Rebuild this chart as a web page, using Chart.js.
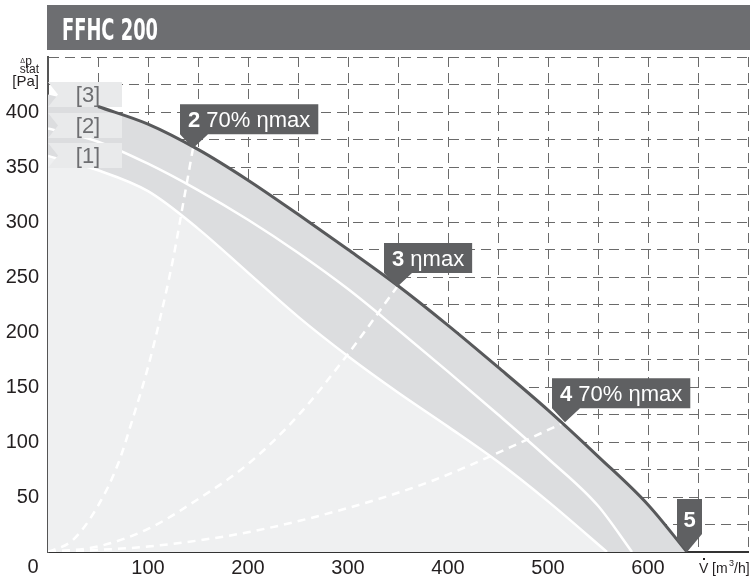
<!DOCTYPE html>
<html>
<head>
<meta charset="utf-8">
<script src="https://cdn.jsdelivr.net/npm/chart.js@4.4.1/dist/chart.umd.min.js"></script>
<style>
  html, body { margin: 0; padding: 0; background: #fff; }
  #wrap { width: 750px; height: 581px; position: relative; }
</style>
</head>
<body>
<div id="wrap"><canvas id="fanChart"></canvas></div>
<script>
// FFHC 200 - fan performance curves
const xTicks = [100, 200, 300, 400, 500, 600];
const yTicks = [50, 100, 150, 200, 250, 300, 350, 400];

// speed curve [3] (top, dark line)
const curve3Flow = [0, 50, 100, 150, 200, 250, 300, 350, 400, 450, 500, 550, 600, 639];
const curve3Pressure = [416, 405, 389, 366, 338, 307, 275, 242, 206, 168, 129, 87, 43, 0];
// speed curve [2] (white line)
const curve2Flow = [0, 50, 100, 150, 200, 250, 300, 350, 400, 450, 500, 550, 584];
const curve2Pressure = [385, 373, 353, 329, 302, 272, 239, 202, 164, 125, 85, 42, 0];
// speed curve [1] (lower edge of band)
const curve1Flow = [0, 50, 100, 150, 200, 250, 300, 350, 400, 450, 500, 559];
const curve1Pressure = [360, 347, 328, 294, 254, 214, 178, 145, 114, 82, 46, 0];

// system curves (white dashed)
const sysAFlow = [0, 25, 50, 70, 85, 100, 112, 125, 135, 145];
const sysAPressure = [0, 11, 42, 80, 122, 168, 212, 266, 316, 367];
const sysBFlow = [0, 50, 100, 150, 200, 250, 300, 349];
const sysBPressure = [0, 5, 21, 48, 80, 124, 180, 241];
const sysCFlow = [0, 100, 200, 300, 385, 452, 517];
const sysCPressure = [0, 5, 18, 40, 65, 91, 118];

// callouts on curve [3]
const calloutNums = ['2', '3', '4', '5'];
const calloutTexts = ['70% ηmax', 'ηmax', '70% ηmax', ''];
const calloutFlow = [145, 349, 517, 639];
const calloutPressure = [367, 241, 118, 0];

const tagLabels = ['[3]', '[2]', '[1]'];

const FONT = "'Liberation Sans', Arial, sans-serif";
const GRID_DASH = [10, 6];

function toPoints(xs, ys) {
  return xs.map((x, i) => ({ x: x, y: ys[i] }));
}

function steps(from, to, step) {
  const out = [];
  for (let v = from; v <= to; v += step) out.push({ value: v });
  return out;
}

function drawTags(chart) {
  const ctx = chart.ctx;
  const left = chart.chartArea.left;
  const tops = [82, 113, 143];
  ctx.save();
  tagLabels.forEach((label, i) => {
    const top = tops[i];
    const bottom = top + 25;
    const mid = (top + bottom) / 2;
    ctx.beginPath();
    ctx.moveTo(left, top);
    ctx.lineTo(left + 74, top);
    ctx.lineTo(left + 74, bottom);
    ctx.lineTo(left, bottom);
    ctx.lineTo(left + 10, mid);
    ctx.closePath();
    ctx.fillStyle = '#e9eaeb';
    ctx.fill();
    ctx.fillStyle = '#6d6e71';
    ctx.font = '22px ' + FONT;
    ctx.textAlign = 'center';
    ctx.textBaseline = 'middle';
    ctx.fillText(label, left + 40, mid + 1);
  });
  ctx.restore();
}

function drawCallouts(chart) {
  const ctx = chart.ctx;
  const xs = chart.scales.x;
  const ys = chart.scales.y;
  ctx.save();
  calloutNums.forEach((num, i) => {
    const tx = xs.getPixelForValue(calloutFlow[i]);
    const ty = ys.getPixelForValue(calloutPressure[i]);
    ctx.fillStyle = '#5f6062';
    ctx.beginPath();
    if (calloutTexts[i]) {
      ctx.font = 'bold 22px ' + FONT;
      const wNum = ctx.measureText(num + ' ').width;
      ctx.font = '22px ' + FONT;
      const wText = ctx.measureText(calloutTexts[i]).width;
      const L = tx - 13, B = ty - 14, T = B - 30, R = L + wNum + wText + 16;
      ctx.moveTo(L, T);
      ctx.lineTo(R, T);
      ctx.lineTo(R, B);
      ctx.lineTo(L + 28, B);
      ctx.lineTo(tx, ty);
      ctx.lineTo(L, B);
      ctx.closePath();
      ctx.fill();
      ctx.fillStyle = '#fff';
      ctx.textBaseline = 'alphabetic';
      ctx.textAlign = 'left';
      ctx.font = 'bold 22px ' + FONT;
      ctx.fillText(num, L + 8, B - 7);
      ctx.font = '22px ' + FONT;
      ctx.fillText(calloutTexts[i], L + 8 + wNum, B - 7);
    } else {
      const L = tx - 10, R = tx + 15, T = ty - 53, B = ty - 12;
      ctx.moveTo(L, T);
      ctx.lineTo(R, T);
      ctx.lineTo(R, B - 6);
      ctx.lineTo(tx, ty);
      ctx.lineTo(L, B);
      ctx.closePath();
      ctx.fill();
      ctx.fillStyle = '#fff';
      ctx.textAlign = 'center';
      ctx.textBaseline = 'alphabetic';
      ctx.font = 'bold 22px ' + FONT;
      ctx.fillText(num, (L + R) / 2, T + 28);
    }
  });
  ctx.restore();
}

function drawTitles(chart) {
  const ctx = chart.ctx;
  ctx.save();
  ctx.fillStyle = '#231f20';
  ctx.textBaseline = 'alphabetic';
  // y axis title
  ctx.textAlign = 'right';
  ctx.font = '12px ' + FONT;
  ctx.fillText('stat', 39, 73);
  ctx.fillText('p', 32, 65);
  ctx.font = '7px ' + FONT;
  ctx.fillText('Δ', 25, 63);
  ctx.font = '15px ' + FONT;
  ctx.fillText('[Pa]', 39, 86);
  // origin label
  ctx.textAlign = 'center';
  ctx.font = '20px ' + FONT;
  ctx.fillText('0', 33, 573);
  // x axis title
  ctx.textAlign = 'left';
  ctx.font = '14px ' + FONT;
  ctx.fillText('V', 699, 573);
  ctx.fillRect(703, 558, 2, 2);
  ctx.fillText('[m', 712, 573);
  ctx.font = '9px ' + FONT;
  ctx.fillText('3', 729, 566);
  ctx.font = '14px ' + FONT;
  ctx.fillText('/h]', 734, 573);
  ctx.restore();
}

const decorPlugin = {
  id: 'decor',
  beforeDraw(chart) {
    const ctx = chart.ctx;
    ctx.save();
    ctx.fillStyle = '#fff';
    ctx.fillRect(0, 0, chart.width, chart.height);
    ctx.fillStyle = '#6d6e71';
    ctx.fillRect(47, 5, chart.width - 47, 45);
    ctx.fillStyle = '#fff';
    ctx.font = "bold 30px 'Liberation Sans Narrow', 'DejaVu Sans Condensed', Arial, sans-serif";
    ctx.textBaseline = 'alphabetic';
    ctx.textAlign = 'left';
    ctx.fillText('FFHC 200', 62, 40, 96);
    ctx.restore();
  },
  beforeDatasetDraw(chart, args) {
    if (args.index === 0) drawTags(chart);
  },
  afterDraw(chart) {
    drawCallouts(chart);
    drawTitles(chart);
  }
};

const lineBase = { pointRadius: 0, tension: 0, cubicInterpolationMode: 'monotone' };

new Chart(document.getElementById('fanChart'), {
  type: 'line',
  data: {
    datasets: [
      Object.assign({ data: toPoints(curve3Flow.slice(1), curve3Pressure.slice(1)), borderColor: '#58595b', borderWidth: 3, fill: false, order: 0 }, lineBase),
      Object.assign({ data: toPoints(sysAFlow, sysAPressure), borderColor: '#ffffff', borderWidth: 2.5, borderDash: [8, 6], fill: false, order: 1 }, lineBase),
      Object.assign({ data: toPoints(sysBFlow, sysBPressure), borderColor: '#ffffff', borderWidth: 2.5, borderDash: [8, 6], fill: false, order: 1 }, lineBase),
      Object.assign({ data: toPoints(sysCFlow, sysCPressure), borderColor: '#ffffff', borderWidth: 2.5, borderDash: [8, 6], fill: false, order: 1 }, lineBase),
      Object.assign({ data: toPoints(curve2Flow, curve2Pressure), borderColor: '#ffffff', borderWidth: 2.5, fill: false, order: 2 }, lineBase),
      Object.assign({ data: toPoints(curve1Flow, curve1Pressure), borderColor: '#ffffff', borderWidth: 2.5, backgroundColor: '#eff0f1', fill: 'origin', order: 3 }, lineBase),
      Object.assign({ data: toPoints(curve3Flow, curve3Pressure), borderWidth: 0, borderColor: 'rgba(0,0,0,0)', backgroundColor: '#dcdddf', fill: 'origin', order: 4 }, lineBase)
    ]
  },
  options: {
    responsive: true,
    maintainAspectRatio: false,
    animation: false,
    events: [],
    layout: { padding: { top: 57, right: 2, left: 0, bottom: 0 } },
    plugins: { legend: { display: false }, tooltip: { enabled: false } },
    scales: {
      x: {
        type: 'linear',
        min: 0,
        max: 700,
        z: 1,
        afterBuildTicks: (s) => { s.ticks = steps(0, 700, 50); },
        afterFit: (s) => { s.height = 29; s.paddingLeft = 0; s.paddingRight = 0; },
        ticks: {
          autoSkip: false,
          maxRotation: 0,
          padding: 4,
          color: '#231f20',
          font: { family: FONT, size: 20 },
          callback: (v) => xTicks.includes(v) ? String(v) : ''
        },
        grid: { color: '#6a6a6a', lineWidth: 1, drawTicks: false },
        border: { display: true, color: '#333333', width: 2, dash: GRID_DASH }
      },
      y: {
        type: 'linear',
        min: 0,
        max: 450,
        z: 1,
        afterBuildTicks: (s) => { s.ticks = steps(0, 450, 25); },
        afterFit: (s) => { s.width = 48; s.paddingTop = 0; s.paddingBottom = 0; },
        ticks: {
          autoSkip: false,
          padding: 9,
          color: '#231f20',
          font: { family: FONT, size: 20 },
          callback: (v) => yTicks.includes(v) ? String(v) : ''
        },
        grid: { color: '#6a6a6a', lineWidth: 1, drawTicks: false },
        border: { display: true, color: '#555555', width: 2, dash: GRID_DASH }
      }
    }
  },
  plugins: [decorPlugin]
});
</script>
</body>
</html>
